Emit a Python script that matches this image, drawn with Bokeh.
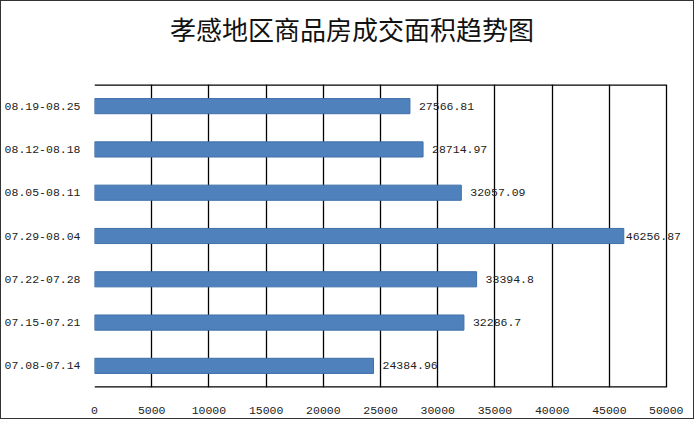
from bokeh.plotting import figure
from bokeh.models import ColumnDataSource, LabelSet, FixedTicker, Range1d, Div
from bokeh.layouts import column
from bokeh.core.properties import value
from bokeh.embed import file_html
from bokeh.resources import INLINE

categories = ["07.08-07.14", "07.15-07.21", "07.22-07.28", "07.29-08.04",
              "08.05-08.11", "08.12-08.18", "08.19-08.25"]
values = [24384.96, 32286.7, 33394.8, 46256.87, 32057.09, 28714.97, 27566.81]
labels = ["24384.96", "32286.7", "33394.8", "46256.87", "32057.09", "28714.97", "27566.81"]
x_ticks = [0, 5000, 10000, 15000, 20000, 25000, 30000, 35000, 40000, 45000, 50000]
x_max = 50000
title_text = "孝感地区商品房成交面积趋势图"

W = 682
TITLE_H = 60
H = 407 - TITLE_H
left_b, right_b, top_b, bottom_b = 89, 1, 13, 31
frame_w = W - left_b - right_b
axis_px = 576  # pixels spanned by 0..x_max
x_end = x_max * frame_w / axis_px
label_px = 11.5
char_w = 0.6 * label_px

# label offsets: normal gap, reduced where the label would run past the frame
offsets = []
for v, s in zip(values, labels):
    bar_end = v / x_max * axis_px
    room = frame_w - bar_end - len(s) * char_w - 2
    offsets.append(max(2, min(9, room)))

src = ColumnDataSource(dict(cat=categories, val=values, lab=labels, xo=offsets))

p = figure(width=W, height=H, y_range=categories, x_range=Range1d(0, x_end),
           output_backend="svg", toolbar_location=None,
           min_border_left=left_b, min_border_right=right_b,
           min_border_top=top_b, min_border_bottom=bottom_b)

p.hbar(y="cat", right="val", height=0.35, left=0, source=src,
       fill_color="#4F81BD", line_color="#3F6FA8", line_width=1)

# frame edges (top and bottom), limited to the 0..x_max axis span
edges = ColumnDataSource(dict(
    x0=[0, 0], x1=[x_max, x_max],
    y=[(categories[0], -0.5), (categories[-1], 0.5)]))
p.segment(x0="x0", x1="x1", y0="y", y1="y", source=edges,
          line_color="#000000", line_width=2.4)

lbl = LabelSet(x="val", y="cat", text="lab", source=src, x_offset="xo", y_offset=0,
               text_baseline="middle", text_font=value("Liberation Mono"),
               text_font_size=value(f"{label_px}px"), text_color=value("#222222"))
p.add_layout(lbl)

p.xaxis.ticker = FixedTicker(ticks=x_ticks)
p.xaxis.axis_line_color = None
p.xaxis.major_tick_line_color = None
p.xaxis.minor_tick_line_color = None
p.xaxis.major_label_text_font = "Liberation Mono"
p.xaxis.major_label_text_font_size = f"{label_px}px"
p.xaxis.major_label_standoff = 13
p.xaxis.major_label_text_color = "#222222"

p.yaxis.axis_line_color = None
p.yaxis.major_tick_line_color = None
p.yaxis.minor_tick_line_color = None
p.yaxis.major_label_text_font = "Liberation Mono"
p.yaxis.major_label_text_font_size = f"{label_px}px"
p.yaxis.major_label_standoff = 8
p.yaxis.major_label_text_color = "#222222"

p.xgrid.ticker = FixedTicker(ticks=x_ticks)
p.xgrid.grid_line_color = "#000000"
p.xgrid.grid_line_width = 1.3
p.ygrid.grid_line_color = None

p.outline_line_color = None
p.background_fill_color = "white"
p.border_fill_color = "white"

title = Div(text=title_text, width=W, height=TITLE_H,
            styles={"font-family": "'Noto Sans CJK SC'", "font-size": "26px",
                    "color": "#111111", "text-align": "center",
                    "line-height": "34px", "padding-top": "6px",
                    "padding-left": "10px", "box-sizing": "border-box",
                    "background-color": "white"})

layout = column(title, p, spacing=0,
                styles={"border": "1px solid #333333", "background-color": "white"})

open("out.html", "w").write(file_html(layout, INLINE))
